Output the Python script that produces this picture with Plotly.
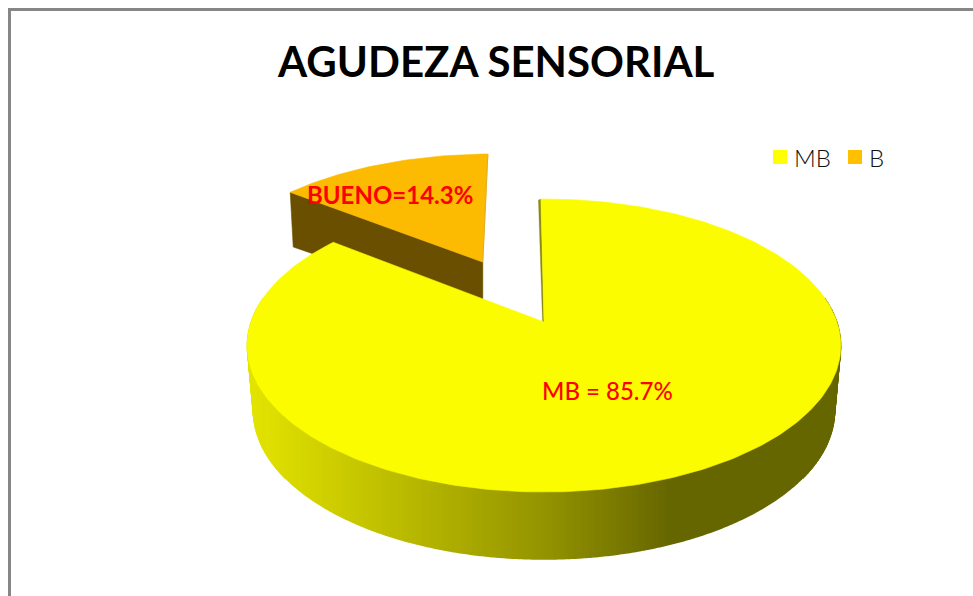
import math
import plotly.graph_objects as go

categories = ["MB", "B"]
values = [85.7, 14.3]
slice_labels = ["MB = 85.7%", "BUENO=14.3%"]
chart_title = "AGUDEZA SENSORIAL"

YELLOW, ORANGE, BROWN = "#FCFC00", "#FCBA00", "#6B4F00"
LEG = ["#FFFF00", "#FFC000"]

# Perspective projection of the pie disc (unit circle) onto the page
XC, C = 544.0, 0.1604
TOP = dict(A=293.0, a=-91.1, b=322.0)
BOT = dict(A=287.0, a=-83.0, b=387.0)
START = -0.7
EXPLODE = 0.503


def proj(u, v, lev):
    w = 1 + C * v
    return XC + lev["A"] * u / w, (lev["a"] * v + lev["b"]) / w


def rim(deg, du=0.0, dv=0.0):
    t = math.radians(deg)
    return math.sin(t) + du, math.cos(t) + dv


def shade(x):
    stops = [(250, 228), (545, 147), (670, 102), (850, 102)]
    for (x0, c0), (x1, c1) in zip(stops, stops[1:]):
        if x <= x1:
            g = int(round(c0 + (c1 - c0) * max(0, x - x0) / (x1 - x0)))
            return f"rgb({g},{g},0)"
    return "rgb(102,102,0)"


def poly(xs, ys, color, width=0.6):
    line = dict(color=color, width=width)
    return go.Scatter(x=xs, y=ys, mode="lines", fill="toself", fillcolor=color,
                      line=line, showlegend=False, hoverinfo="skip")


def front_y(x, lev):
    """Lower-rim y of a projected disc at page column x (bisection on the angle)."""
    lo, hi = 100.0, 260.0
    for _ in range(40):
        mid = (lo + hi) / 2
        if proj(*rim(mid), lev)[0] > x:
            lo = mid
        else:
            hi = mid
    return proj(*rim((lo + hi) / 2), lev)[1]


total = sum(values)
sweep_main = 360 * values[0] / total
sweep_b = 360 * values[1] / total
fig = go.Figure()

# --- exploded slice
mid = math.radians(START - sweep_b / 2)
du, dv = EXPLODE * math.sin(mid), EXPLODE * math.cos(mid)
n = 40
b_angles = [START - sweep_b + sweep_b * i / n for i in range(n + 1)]
ap = proj(du, dv, TOP)
corner = proj(*rim(START - sweep_b, du, dv), TOP)
corner_b = proj(*rim(START - sweep_b, du, dv), BOT)
T = 0.87
cb = (corner[0] + 3, corner[1] + T * (corner_b[1] - corner[1]))
fig.add_trace(poly([corner[0], ap[0], ap[0], cb[0], corner[0]],
                   [corner[1], ap[1], ap[1] + 50, cb[1], corner[1]], BROWN))
pts = [proj(*rim(a, du, dv), TOP) for a in b_angles]
fig.add_trace(poly([p[0] for p in pts] + [ap[0], pts[0][0]],
                   [p[1] for p in pts] + [ap[1], pts[0][1]], ORANGE))
fig.add_trace(go.Scatter(x=[pts[-1][0], ap[0]], y=[pts[-1][1], ap[1]], mode="lines",
                         line=dict(color="#DDAE30", width=1), showlegend=False, hoverinfo="skip"))

# --- side wall: single-colour quads at the two ends, then vertical gradient strips
for a_from, a_to, xref in [(80, 125, 840), (235, 280, 252)]:
    steps = 45
    col = shade(xref)
    for i in range(steps):
        a0 = a_from + (a_to - a_from) * i / steps
        a1 = a_from + (a_to - a_from) * (i + 1) / steps
        p0, p1 = proj(*rim(a0), TOP), proj(*rim(a1), TOP)
        q0, q1 = proj(*rim(a0), BOT), proj(*rim(a1), BOT)
        fig.add_trace(poly([p0[0], p1[0], q1[0], q0[0], p0[0]],
                           [p0[1], p1[1], q1[1], q0[1], p0[1]], col, 0.8))
for x in range(254, 834, 2):
    col = shade(x + 1)
    y0t, y1t = front_y(x, TOP) - 3, front_y(x + 2, TOP) - 3
    y0b, y1b = front_y(x, BOT), front_y(x + 2, BOT)
    fig.add_trace(poly([x, x + 2, x + 2, x, x], [y0t, y1t, y1b, y0b, y0t], col, 0))

# --- thin visible cut wall at the start of the large slice
w0, w1 = proj(*rim(START), TOP), proj(0, 0, TOP)
fig.add_trace(poly([w0[0] - 2.5, w0[0], w1[0], w1[0] - 1.5, w0[0] - 2.5],
                   [w0[1] + 1, w0[1], w1[1], w1[1], w0[1] + 1], "#8A8A10", 0.3))

# --- top of the large slice
k = 300
main = [proj(*rim(START + sweep_main * i / k), TOP) for i in range(k + 1)]
fig.add_trace(poly([p[0] for p in main] + [w1[0], main[0][0]],
                   [p[1] for p in main] + [w1[1], main[0][1]], YELLOW))

# --- legend entries
legend_x = [780, 855]
legend_text_x = [795, 870]
for name, col, lx in zip(categories, LEG, legend_x):
    fig.add_trace(go.Scatter(x=[lx], y=[157], mode="markers",
                             marker=dict(symbol="square", size=14, color=col),
                             cliponaxis=False, name=name, showlegend=False, hoverinfo="skip"))

annos = [
    dict(x=496, y=61, text=f"<b>{chart_title}</b>", font=dict(family="Lato", size=42, color="#000000")),
    dict(x=607.5, y=390, text=slice_labels[0], font=dict(family="Lato", size=24, color="#FF0000", weight=500)),
    dict(x=390, y=194, text=f"<b>{slice_labels[1]}</b>", font=dict(family="Lato", size=24, color="#FF0000")),
]
anno_list = [dict(a, xref="x", yref="y", showarrow=False, xanchor="center", yanchor="middle") for a in annos]
for name, tx in zip(categories, legend_text_x):
    anno_list.append(dict(x=tx, y=157, text=name, xref="x", yref="y", showarrow=False,
                          xanchor="left", yanchor="middle", xshift=-3,
                          font=dict(family="Lato", size=24, color="#111111", weight=300)))

fig.update_layout(
    width=973, height=596, margin=dict(l=0, r=0, t=0, b=0),
    paper_bgcolor="white", plot_bgcolor="white", showlegend=False,
    xaxis=dict(range=[0, 973], visible=False, fixedrange=True),
    yaxis=dict(range=[596, 0], visible=False, fixedrange=True),
    annotations=anno_list,
    shapes=[
        dict(type="line", x0=9.5, x1=9.5, y0=9, y1=596, xref="x", yref="y", line=dict(color="#868686", width=3)),
        dict(type="line", x0=8, x1=973, y0=9.5, y1=9.5, xref="x", yref="y", line=dict(color="#868686", width=3)),
    ],
)
fig.write_html("out.html", config=dict(displayModeBar=False),
               post_script="document.body.style.margin='0';")
